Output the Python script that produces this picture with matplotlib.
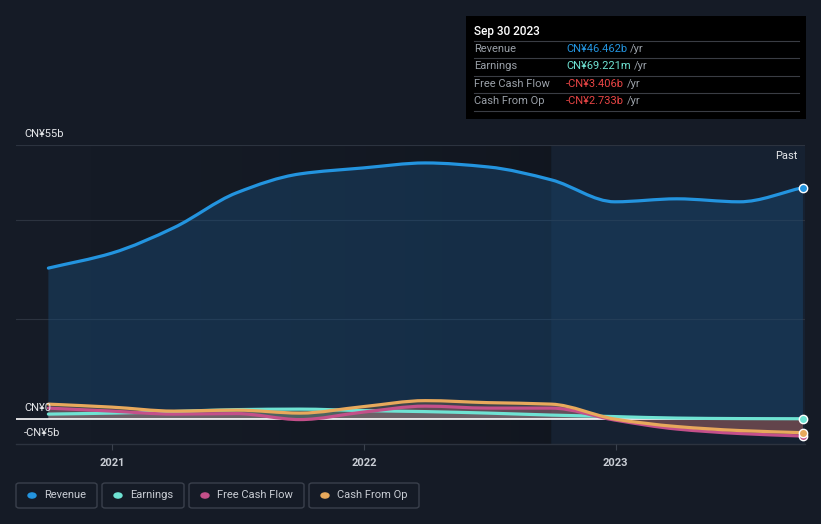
import numpy as np
import matplotlib.pyplot as plt
import matplotlib.dates as mdates
from matplotlib.path import Path
from matplotlib.patches import PathPatch, Rectangle, FancyBboxPatch, Circle
from datetime import date

plt.rcParams['font.family'] = ['Roboto', 'DejaVu Sans']

# quarterly values, CN¥ billions
dates = [date(2020, 9, 30), date(2020, 12, 31), date(2021, 3, 31), date(2021, 6, 30),
         date(2021, 9, 30), date(2021, 12, 31), date(2022, 3, 31), date(2022, 6, 30),
         date(2022, 9, 30), date(2022, 12, 31), date(2023, 3, 31), date(2023, 6, 30),
         date(2023, 9, 30)]
revenue = [30.3, 33.3, 38.4, 45.4, 49.2, 50.4, 51.4, 50.6, 48.0, 43.6, 44.2, 43.6, 46.462]
earnings = [1.0, 1.2, 1.5, 1.9, 2.0, 1.7, 1.5, 1.2, 0.8, 0.5, 0.2, 0.1, 0.069]
fcf = [2.2, 1.6, 1.0, 1.1, -0.1, 1.4, 2.6, 2.2, 2.2, -0.2, -2.0, -2.9, -3.406]
cfo = [3.0, 2.4, 1.6, 1.8, 1.2, 2.5, 3.7, 3.3, 3.0, 0.0, -1.5, -2.3, -2.733]

series = [
    ('Revenue', revenue, '#2394df'),
    ('Earnings', earnings, '#6fe3d3'),
    ('Free Cash Flow', fcf, '#c4508a'),
    ('Cash From Op', cfo, '#e8a95c'),
]

ytick_vals = [55, 0, -5]
ytick_labels = ['CN¥55b', 'CN¥0', '-CN¥5b']
grid_vals = [55, 40, 20]
xtick_years = [2021, 2022, 2023]

tooltip_title = 'Sep 30 2023'
tooltip_rows = [('Revenue', 'CN¥46.462b', '#2394df'),
                ('Earnings', 'CN¥69.221m', '#6fe3d3'),
                ('Free Cash Flow', '-CN¥3.406b', '#e84545'),
                ('Cash From Op', '-CN¥2.733b', '#e84545')]

bg = '#151b26'
W, H = 821, 524


def fx(x):
    return x / W


def fy(y):
    return 1 - y / H


def smooth_path(x, y):
    # monotone cubic bezier through the points
    x = np.asarray(x, float)
    y = np.asarray(y, float)
    n = len(x)
    d = np.diff(y) / np.diff(x)
    m = np.zeros(n)
    m[0], m[-1] = d[0], d[-1]
    for i in range(1, n - 1):
        if d[i - 1] * d[i] <= 0:
            m[i] = 0
        else:
            m[i] = 2 / (1 / d[i - 1] + 1 / d[i])
    verts = [(x[0], y[0])]
    codes = [Path.MOVETO]
    for i in range(n - 1):
        h = x[i + 1] - x[i]
        verts += [(x[i] + h / 3, y[i] + m[i] * h / 3),
                  (x[i + 1] - h / 3, y[i + 1] - m[i + 1] * h / 3),
                  (x[i + 1], y[i + 1])]
        codes += [Path.CURVE4] * 3
    return verts, codes


fig = plt.figure(figsize=(8.21, 5.24), dpi=100, facecolor=bg)
ax = fig.add_axes([fx(16), fy(444), fx(805) - fx(16), fy(145) - fy(444)])
ax.set_facecolor(bg)

xn = mdates.date2num(dates)
ax.set_xlim(mdates.date2num(date(2020, 8, 14)), mdates.date2num(date(2023, 10, 3)))
ax.set_ylim(-5, 55)

# darkening towards the past line, then the lighter past region
grad = np.zeros((1, 256, 4))
grad[0, :, 3] = np.linspace(0, 0.3, 256) ** 1.5
ax.imshow(grad, extent=[xn[0], xn[8], -5, 55], aspect='auto', zorder=0,
          interpolation='bilinear')
ax.axvspan(xn[8], ax.get_xlim()[1], color='#1a3350', alpha=0.28, lw=0, zorder=0)
ax.set_xlim(mdates.date2num(date(2020, 8, 14)), mdates.date2num(date(2023, 10, 3)))
ax.set_ylim(-5, 55)

for g in grid_vals:
    ax.axhline(g, color='#2c333f', lw=0.8, zorder=1)

fill_alpha = {'Revenue': 0.45, 'Earnings': 0.2, 'Free Cash Flow': 0.25, 'Cash From Op': 0.2}
for name, vals, col in series:
    verts, codes = smooth_path(xn, vals)
    fv = verts + [(xn[-1], 0), (xn[0], 0), (xn[0], 0)]
    fc = codes + [Path.LINETO, Path.LINETO, Path.CLOSEPOLY]
    ax.add_patch(PathPatch(Path(fv, fc), facecolor=col if name != 'Revenue' else '#1a4a75',
                           edgecolor='none', alpha=fill_alpha[name], zorder=2))
for name, vals, col in series:
    verts, codes = smooth_path(xn, vals)
    ax.add_patch(PathPatch(Path(verts, codes), facecolor='none', edgecolor=col,
                           lw=2.3, zorder=4, capstyle='round'))
    ax.plot(xn[-1], vals[-1], 'o', ms=6, color=col, mec='white', mew=1, zorder=6,
            clip_on=False)

ax.axhline(0, color='white', lw=1.2, zorder=3)

for s in ax.spines.values():
    s.set_visible(False)
ax.set_yticks([])
ax.set_xticks([mdates.date2num(date(y, 1, 1)) for y in xtick_years])
ax.set_xticklabels([str(y) for y in xtick_years], color='#c9cdd4', fontsize=8,
                   fontweight='bold')
ax.tick_params(axis='x', length=4, color='#3a414d', pad=6)
ax.axhline(-5, color='#2c333f', lw=1, zorder=1, clip_on=False)

for v, lab in zip(ytick_vals, ytick_labels):
    ax.text(fx(24), fy(145 + (55 - v) * 4.98) + 6 / H, lab, transform=fig.transFigure,
            color='#e6e8eb', fontsize=8, va='bottom', ha='left', zorder=7)

fig.text(fx(797), fy(156), 'Past', color='#e6e8eb', fontsize=8, ha='right', va='center')

# tooltip
fig.add_artist(Rectangle((fx(466), fy(119)), fx(806) - fx(466), fy(16) - fy(119),
                         transform=fig.transFigure, facecolor='black', edgecolor='none'))
fig.text(fx(474), fy(31), tooltip_title, color='white', fontsize=8.5, va='center',
         fontweight='medium')
for ly in [41, 58, 76, 93, 111]:
    fig.add_artist(plt.Line2D([fx(474), fx(799)], [fy(ly), fy(ly)], color='#3a3d44', lw=0.8,
                              transform=fig.transFigure))
renderer = fig.canvas.get_renderer()
for i, (lab, val, col) in enumerate(tooltip_rows):
    ry = fy(49 + i * 17.4)
    fig.text(fx(474), ry, lab, color='#9aa0a8', fontsize=8, va='center')
    t = fig.text(fx(566), ry, val, color=col, fontsize=8, va='center')
    bb = t.get_window_extent(renderer)
    fig.text((bb.x1 + 3) / W, ry, '/yr', color='#9aa0a8', fontsize=8, va='center')

# legend
legend_boxes = [(16, 97), (102, 184), (189, 304), (309, 419)]
for (x0, x1), (name, vals, col) in zip(legend_boxes, series):
    fig.add_artist(FancyBboxPatch((fx(x0), fy(508)), fx(x1) - fx(x0), fy(483) - fy(508),
                                  boxstyle='round,pad=0,rounding_size=0.004',
                                  transform=fig.transFigure, facecolor='none',
                                  edgecolor='#3a404c', lw=1))
    fig.add_artist(Circle((fx(x0 + 16), fy(495.5)), 4 / W, transform=fig.transFigure,
                          color=col))
    fig.text(fx(x0 + 28), fy(495.5), name, color='#c9cdd4', fontsize=8, va='center')

fig.savefig('out.png', dpi=100, facecolor=bg)
